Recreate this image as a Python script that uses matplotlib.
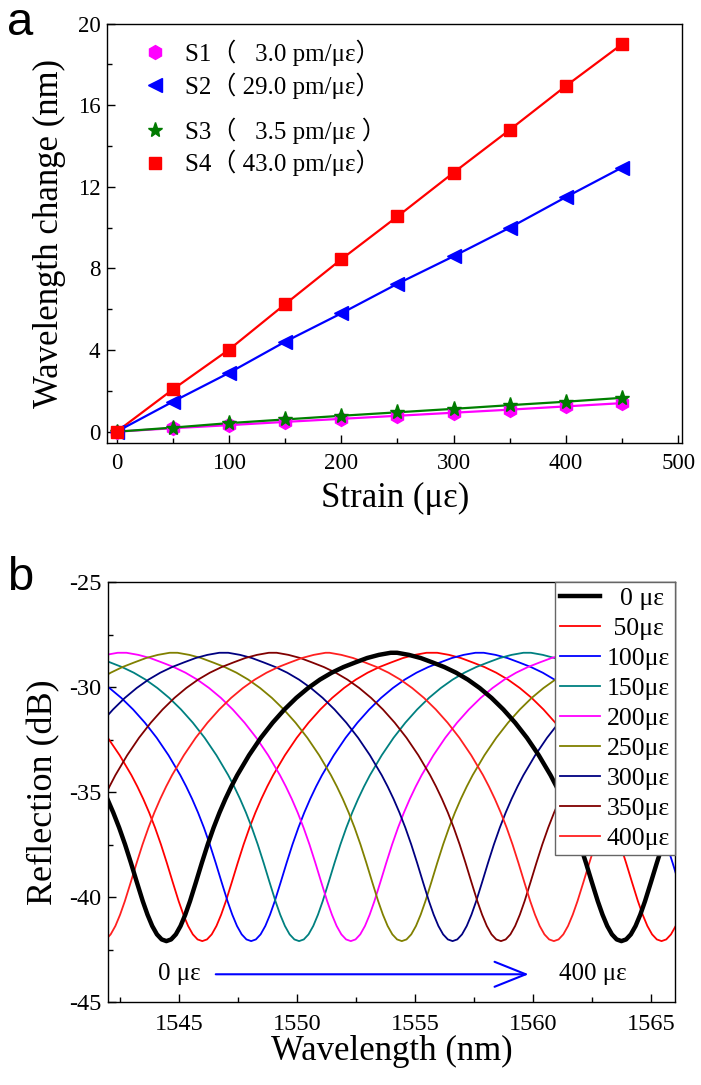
import numpy as np
import matplotlib
matplotlib.use('Agg')
import matplotlib.pyplot as plt

# Times-like text, CJK family only as fallback for the full-width brackets
plt.rcParams['font.family'] = ['Liberation Serif', 'Noto Sans CJK SC']
plt.rcParams['axes.unicode_minus'] = False

# ---- panel a : wavelength change vs strain ----
strain = [0, 50, 100, 150, 200, 250, 300, 350, 400, 450]
s1 = [0, 0.17, 0.32, 0.48, 0.63, 0.78, 0.93, 1.08, 1.24, 1.40]
s2 = [0, 1.47, 2.88, 4.41, 5.80, 7.25, 8.60, 10.00, 11.50, 12.95]
s3 = [0, 0.20, 0.42, 0.60, 0.78, 0.95, 1.12, 1.30, 1.47, 1.66]
s4 = [0, 2.07, 4.02, 6.25, 8.45, 10.55, 12.70, 14.80, 16.95, 19.00]
labels_a = ['S1（   3.0 pm/με）', 'S2（ 29.0 pm/με）',
            'S3（   3.5 pm/με ）', 'S4（ 43.0 pm/με）']

# ---- panel b : reflection spectra ----
# one dip profile (distance from dip in nm, dB)
profile_d = [0, 0.2, 0.4, 0.6, 0.8, 1.0, 1.25, 1.5, 1.75, 2.0, 2.25, 2.5,
             2.75, 3.0, 3.5, 4.0, 4.5, 5.0, 5.5, 6.0, 6.5, 7.0, 7.5, 8.0,
             8.5, 9.0, 9.5, 9.75]
profile_db = [-42.1, -42.02, -41.78, -41.38, -40.84, -40.2, -39.3, -38.38,
              -37.5, -36.7, -35.98, -35.33, -34.74, -34.2, -33.25, -32.42,
              -31.7, -31.07, -30.52, -30.05, -29.65, -29.32, -29.05, -28.83,
              -28.62, -28.47, -28.37, -28.35]
strain_b = ['  0 με', ' 50με', '100με', '150με', '200με', '250με', '300με',
            '350με', '400με']
# dip wavelengths of every spectrum (nm), outer ones lie just off the plot
dips = [[1525.1, 1544.46, 1563.73],
        [1526.6, 1545.98, 1565.43],
        [1528.7, 1548.05, 1567.4],
        [1530.8, 1550.08, 1569.4],
        [1532.9, 1552.27, 1571.6],
        [1535.1, 1554.43, 1573.8],
        [1537.2, 1556.58, 1575.9],
        [1539.3, 1558.63, 1578.0],
        [1541.7, 1560.87, 1580.2]]
colors_b = ['black', '#ff0000', '#0000ff', '#008080', '#ff00ff', '#808000',
            '#000080', '#800000', '#ff2020']


def spectrum(centres):
    # put the read profile on each dip, mirrored on both sides
    wl, db = [], []
    for k, c in enumerate(centres):
        left = (c - centres[k-1]) / 2 if k > 0 else 10
        right = (centres[k+1] - c) / 2 if k < len(centres) - 1 else 10
        for d, v in zip(profile_d[:0:-1], profile_db[:0:-1]):
            if d <= left:
                wl.append(c - d)
                db.append(v)
        wl.append(c)
        db.append(profile_db[0])
        for d, v in zip(profile_d[1:], profile_db[1:]):
            if d <= right:
                wl.append(c + d)
                db.append(v)
    return wl, db


W, H = 701, 1085
fig = plt.figure(figsize=(W/100, H/100), dpi=100)

# panel a
ax1 = fig.add_axes([107.3/W, 1-442.7/H, 575/W, 419/H])
ax1.plot(strain, s4, color='#ff0000', lw=1.6)
ax1.plot(strain, s2, color='#0000ff', lw=1.6)
ax1.plot(strain, s1, color='#ff00ff', lw=1.6)
ax1.plot(strain, s3, color='#008000', lw=1.6)
h1, = ax1.plot(strain, s1, 'h', color='#ff00ff', ms=10, ls='none')
h2, = ax1.plot(strain, s2, '<', color='#0000ff', ms=10, ls='none')
h3, = ax1.plot(strain, s3, '*', color='#007a00', ms=11, ls='none')
h4, = ax1.plot(strain, s4, 's', color='#ff0000', ms=8.5, ls='none')
# the original legend has a wider gap between S2 and S3, so two blocks
leg_top = ax1.legend([h1, h2], labels_a[:2], loc='upper left',
                     bbox_to_anchor=(0.022, 1.016), frameon=False, fontsize=18,
                     handlelength=1.0, handletextpad=0.7, labelspacing=0.25)
ax1.add_artist(leg_top)
ax1.legend([h3, h4], labels_a[2:], loc='upper left',
           bbox_to_anchor=(0.022, 0.830), frameon=False, fontsize=18,
           handlelength=1.0, handletextpad=0.7, labelspacing=0.25)
ax1.set_xlim(-8.3, 503.6)
ax1.set_ylim(-0.54, 20)
ax1.set_xticks(np.arange(0, 501, 100))
ax1.set_xticks(np.arange(50, 500, 100), minor=True)
ax1.set_yticks(np.arange(0, 21, 4))
ax1.set_yticks(np.arange(2, 20, 4), minor=True)
ax1.set_xlabel('Strain (με)', fontsize=25, labelpad=6)
ax1.set_ylabel('Wavelength change (nm)', fontsize=25, labelpad=8)

# panel b
ax2 = fig.add_axes([108.3/W, 1-1002/H, 566.7/W, 420/H])
for i in range(len(strain_b)):
    wl, db = spectrum(dips[i])
    if i == 0:
        ax2.plot(wl, db, color=colors_b[i], lw=3.2, label=strain_b[i], zorder=3)
    else:
        ax2.plot(wl, db, color=colors_b[i], lw=1.3, label=strain_b[i])
leg = ax2.legend(loc='upper right', bbox_to_anchor=(1, 1), borderaxespad=0,
                 fontsize=18.5, handlelength=1.55, handletextpad=0.27,
                 labelspacing=0.27, borderpad=0.2, fancybox=False,
                 framealpha=1, edgecolor='#666666')
leg.get_frame().set_linewidth(1.0)
leg.set_zorder(5)
ax2.annotate('', xy=(1559.8, -43.68), xytext=(1546.55, -43.68),
             arrowprops=dict(arrowstyle='->,head_length=0.75,head_width=0.3',
                             color='#0000ff', lw=1.5, mutation_scale=30,
                             shrinkA=0, shrinkB=0))
ax2.text(1545.0, -43.68, '0 με', fontsize=18, ha='center', va='center')
ax2.text(1562.5, -43.68, '400 με', fontsize=18, ha='center', va='center')
ax2.set_xlim(1542, 1566)
ax2.set_ylim(-45, -25)
ax2.set_xticks(np.arange(1545, 1566, 5))
ax2.set_xticks(np.arange(1542.5, 1566, 2.5), minor=True)
ax2.set_yticks(np.arange(-45, -24, 5))
ax2.set_yticks(np.arange(-42.5, -25, 5), minor=True)
ax2.set_xlabel('Wavelength (nm)', fontsize=25, labelpad=0)
ax2.set_ylabel('Reflection (dB)', fontsize=26, labelpad=6)

for ax, fs, xp in [(ax1, 16.5, 7.5), (ax2, 17.5, 8.5)]:
    ax.tick_params(which='both', direction='in', top=False, right=False,
                   labelsize=fs, width=1.0)
    ax.tick_params(which='major', length=6)
    ax.tick_params(which='minor', length=3.5)
    ax.tick_params(axis='x', which='both', pad=xp)
    ax.tick_params(axis='y', which='both', pad=5)
    for sp in ax.spines.values():
        sp.set_linewidth(1.0)

fig.text(20/W, 1-23/H, 'a', fontsize=34, family='Liberation Sans',
         ha='center', va='center')
fig.text(20/W, 1-578/H, 'b', fontsize=34, family='Liberation Sans',
         ha='center', va='center')

fig.savefig('out.png', dpi=100)
